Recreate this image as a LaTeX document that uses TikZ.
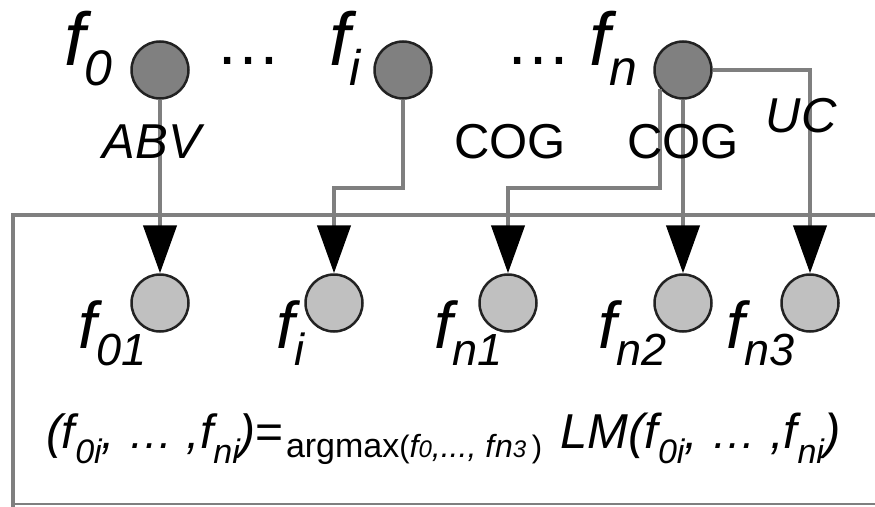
\documentclass[tikz,border=0pt]{standalone}
\usepackage{fontspec}
\setmainfont{Liberation Sans}
\usetikzlibrary{arrows.meta}
\definecolor{topfill}{HTML}{808080}
\definecolor{botfill}{HTML}{C0C0C0}
\definecolor{linegray}{HTML}{7F7F7F}
\definecolor{rimcol}{HTML}{222222}
\newcommand\fsz[1]{\fontsize{#1}{#1}\selectfont}
\newcommand\flabel[5]{{\fsz{#1}\itshape #4}\raisebox{-#3pt}{\fsz{#2}\itshape #5}}
\newcommand\fsub[1]{\raisebox{-15pt}{\fsz{34}\itshape #1}}
\begin{document}
\begin{tikzpicture}[x=1pt,y=-1pt,
  topnode/.style={circle,draw=rimcol,line width=2.5pt,fill=topfill,minimum size=57pt,inner sep=0pt},
  botnode/.style={circle,draw=rimcol,line width=2.5pt,fill=botfill,minimum size=57pt,inner sep=0pt},
  txt/.style={inner sep=0pt,outer sep=0pt},
  conn/.style={draw=linegray,line width=4.5pt},
  arr/.style={conn,-{Triangle[length=48pt,width=33pt,black]}},
  edgelbl/.style={txt,anchor=base,font=\fsz{49}},
  boxline/.style={draw=linegray,line width=4.5pt}
]
\useasboundingbox (0,0) rectangle (875,506);
\clip (0,0) rectangle (875,506);
% frame
\draw[boxline] (13,510) -- (13,215) -- (880,215);
\draw[draw=linegray,line width=2.5pt] (13,504) -- (880,504);
% top nodes
\node[topnode] (t0) at (160,70) {};
\node[topnode] (ti) at (403,70) {};
\node[topnode] (tn) at (683,70) {};
% bottom nodes
\node[botnode] (b01) at (160,303) {};
\node[botnode] (bi) at (334,303) {};
\node[botnode] (bn1) at (508,303) {};
\node[botnode] (bn2) at (683,303) {};
\node[botnode] (bn3) at (810,303) {};
% top labels
\node[txt,anchor=base west] (lt0) at (64,65) {\flabel{75}{50}{20}{f}{0}};
\node[txt,anchor=base west] (lti) at (329,65) {\flabel{75}{50}{20}{f}{i}};
\node[txt,anchor=base west] (ltn) at (589,65) {\flabel{75}{50}{20}{f}{n}};
\node[txt,anchor=base] (d1) at (248,64) {\fsz{66}…};
\node[txt,anchor=base] (d2) at (538,64) {\fsz{66}…};
% bottom labels
\node[txt,anchor=base west] (lb01) at (78,348) {\flabel{66}{45}{17}{f}{01}};
\node[txt,anchor=base west] (lbi) at (276,348) {\flabel{66}{45}{17}{f}{i}};
\node[txt,anchor=base west] (lbn1) at (434,348) {\flabel{66}{45}{17}{f}{n1}};
\node[txt,anchor=base west] (lbn2) at (598,348) {\flabel{66}{45}{17}{f}{n2}};
\node[txt,anchor=base west] (lbn3) at (726,348) {\flabel{66}{45}{17}{f}{n3}};
% connectors
\coordinate (jog) at (0,188);
\draw[arr] (t0) -- (b01);
\draw[arr] (ti.south) -- (ti.south |- jog) -| (bi.north);
\draw[arr] (tn.-140) -- (tn.-140 |- jog) -| (bn1.north);
\draw[arr] (tn) -- (bn2);
\draw[arr] (tn.east) -| (bn3.north);
% edge labels
\node[edgelbl] (labv) at (152,158) {\itshape ABV};
\node[edgelbl] (lcog1) at (510,158) {COG};
\node[edgelbl] (lcog2) at (683,158) {COG};
\node[edgelbl] (luc) at (801,132) {\itshape UC};
% formula
\node[txt,anchor=base west] (form1) at (46,448) {%
  \fsz{48}\itshape (f\fsub{0i}, {\fsz{45}…} ,f\fsub{ni})\upshape=};
\node[txt,anchor=base west] (form2) at (286,457) {%
  \fsz{34}argmax{\fsz{31}(}\itshape{\fsz{32}f\fsz{24}0\fsz{32},..., f\kern1pt n\fsz{24}3}\upshape\,{\fsz{31})}};
\node[txt,anchor=base west] (form3) at (560,448) {%
  \fsz{49}\itshape LM(f\fsub{0i}, {\fsz{45}…} ,f\fsub{ni})};
\end{tikzpicture}
\end{document}
